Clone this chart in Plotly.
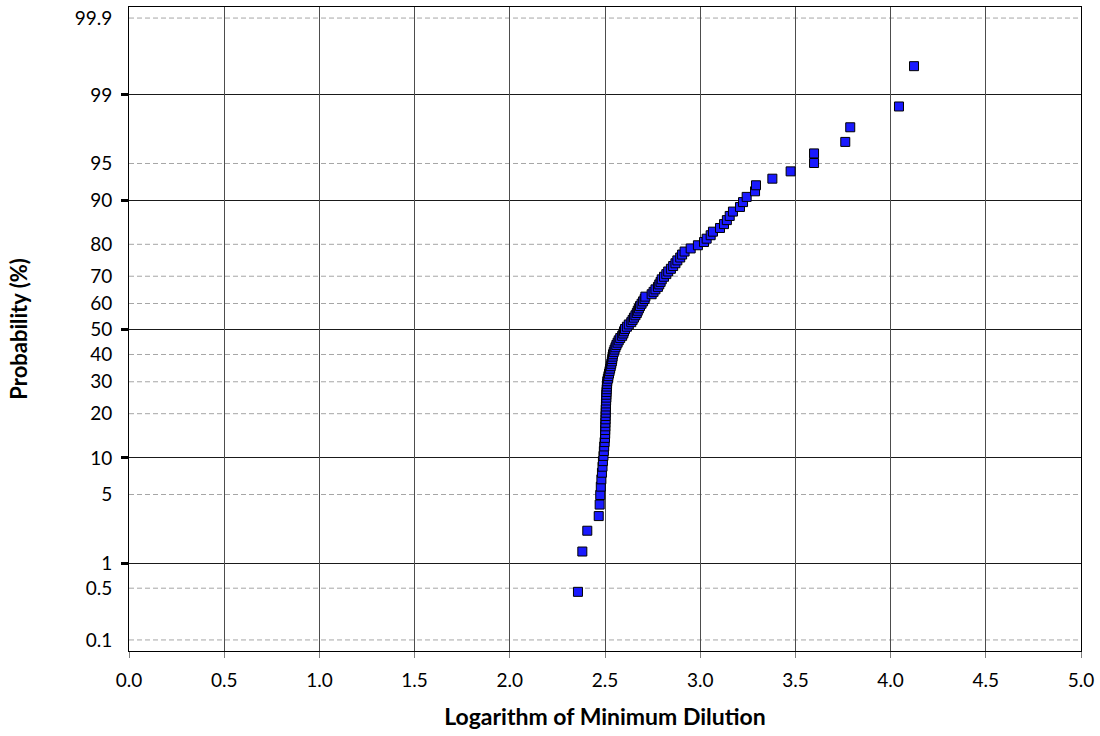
import plotly.graph_objects as go
from statistics import NormalDist

# ---- data ----
log_dilution = [
    2.358, 2.381, 2.407, 2.467, 2.472, 2.475, 2.478, 2.481, 2.484, 2.487,
    2.489, 2.492, 2.494, 2.496, 2.498, 2.500, 2.501, 2.501, 2.502, 2.502,
    2.503, 2.503, 2.504, 2.504, 2.505, 2.505, 2.506, 2.507, 2.507, 2.508,
    2.509, 2.510, 2.511, 2.512, 2.515, 2.518, 2.521, 2.524, 2.527, 2.530,
    2.533, 2.536, 2.538, 2.540, 2.542, 2.546, 2.550, 2.555, 2.560, 2.566,
    2.572, 2.580, 2.590, 2.596, 2.600, 2.605, 2.615, 2.625, 2.638, 2.645,
    2.652, 2.660, 2.667, 2.672, 2.678, 2.684, 2.692, 2.700, 2.708, 2.712,
    2.745, 2.755, 2.765, 2.778, 2.785, 2.792, 2.798, 2.810, 2.822, 2.832,
    2.846, 2.858, 2.870, 2.880, 2.895, 2.905, 2.918, 2.950, 2.988, 3.020,
    3.034, 3.055, 3.067, 3.104, 3.125, 3.140, 3.155, 3.172, 3.209, 3.225,
    3.244, 3.288, 3.293, 3.379, 3.475, 3.598, 3.598, 3.762, 3.788, 4.044,
    4.123,
]
probability_pct = [
    0.45, 1.35, 2.25, 3.15, 4.05, 4.95, 5.86, 6.76, 7.66, 8.56,
    9.46, 10.36, 11.26, 12.16, 13.06, 13.96, 14.86, 15.77, 16.67, 17.57,
    18.47, 19.37, 20.27, 21.17, 22.07, 22.97, 23.87, 24.77, 25.68, 26.58,
    27.48, 28.38, 29.28, 30.18, 31.08, 31.98, 32.88, 33.78, 34.68, 35.59,
    36.49, 37.39, 38.29, 39.19, 40.09, 40.99, 41.89, 42.79, 43.69, 44.59,
    45.50, 46.40, 47.30, 48.20, 49.10, 50.00, 50.90, 51.80, 52.70, 53.60,
    54.50, 55.41, 56.31, 57.21, 58.11, 59.01, 59.91, 60.81, 61.71, 62.61,
    63.51, 64.41, 65.32, 66.22, 67.12, 68.02, 68.92, 69.82, 70.72, 71.62,
    72.52, 73.42, 74.32, 75.23, 76.13, 77.03, 77.93, 78.83, 79.73, 80.63,
    81.53, 82.43, 83.33, 84.23, 85.14, 86.04, 86.94, 87.84, 88.74, 89.64,
    90.54, 91.44, 92.34, 93.24, 94.14, 95.05, 95.95, 96.85, 97.75, 98.65,
    99.55,
]
y_tick_labels = ["0.1", "0.5", "1", "5", "10", "20", "30", "40", "50",
                 "60", "70", "80", "90", "95", "99", "99.9"]
major_labels = ["1", "10", "50", "90", "99"]
x_ticks = [0.0, 0.5, 1.0, 1.5, 2.0, 2.5, 3.0, 3.5, 4.0, 4.5, 5.0]

# ---- probability (normal) scale ----
nd = NormalDist()
def probit(p):
    return nd.inv_cdf(float(p) / 100.0)

y_z = [probit(p) for p in probability_pct]
tick_z = [probit(t) for t in y_tick_labels]
major_z = [probit(t) for t in major_labels]
dashed_z = [probit(t) for t in y_tick_labels if t not in major_labels]

FONT = "Lato"

fig = go.Figure()
fig.add_trace(go.Scatter(
    x=log_dilution, y=y_z, mode="markers",
    marker=dict(symbol="square", size=9, color="#1a1aff",
                line=dict(color="black", width=1)),
    showlegend=False, hoverinfo="skip",
))

shapes = []
for z in dashed_z:
    shapes.append(dict(type="line", xref="paper", x0=0, x1=1, yref="y", y0=z, y1=z,
                       line=dict(color="#a6a6a6", width=1, dash="5px,3px"), layer="below"))
fig.update_layout(shapes=shapes)

fig.update_layout(
    width=1100, height=736,
    margin=dict(l=129, r=19, t=7, b=85),
    paper_bgcolor="white", plot_bgcolor="white",
    font=dict(family=FONT, size=19, color="black"),
    xaxis=dict(
        range=[0, 5], tickmode="array", tickvals=x_ticks,
        ticktext=[f"{v:.1f}" for v in x_ticks],
        showgrid=True, gridcolor="#4d4d4d", gridwidth=1,
        ticks="outside", ticklen=6, tickcolor="#808080", tickwidth=1,
        showline=True, linecolor="black", linewidth=1, mirror=True,
        zeroline=False, ticklabelstandoff=6,
        title=dict(text="<b>Logarithm of Minimum Dilution</b>",
                   font=dict(family=FONT, size=23), standoff=19),
    ),
    yaxis=dict(
        range=[-3.2, 3.2], tickmode="array", tickvals=tick_z, ticktext=y_tick_labels,
        showgrid=False, ticks="", ticklabelstandoff=12,
        showline=True, linecolor="black", linewidth=1, mirror=True,
        zeroline=False,
        minor=dict(tickmode="array", tickvals=major_z, ticks="outside",
                   ticklen=7, tickwidth=3, tickcolor="black",
                   showgrid=True, gridcolor="#1a1a1a", gridwidth=1),
        title=dict(text="<b>Probability (%)</b>",
                   font=dict(family=FONT, size=22), standoff=40),
    ),
)

fig.write_html("out.html")
